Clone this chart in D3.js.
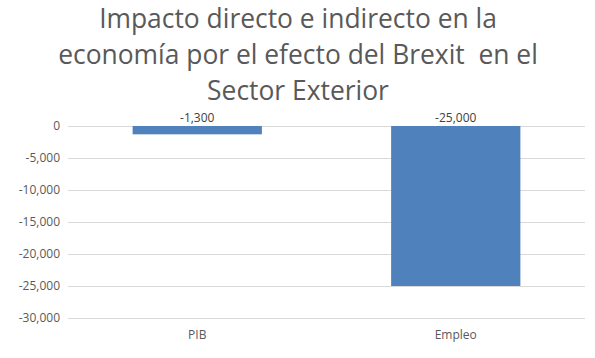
<!DOCTYPE html>
<html><head><meta charset="utf-8">
<script src="https://cdn.jsdelivr.net/npm/d3@7"></script>
<style>body{margin:0;background:#fff}svg{display:block}</style>
</head><body>
<script>
const categories = ["PIB", "Empleo"];
const values = [-1300, -25000];
const yTicks = [0, -5000, -10000, -15000, -20000, -25000, -30000];
const titleLines = ["Impacto directo e indirecto en la", "economía por el efecto del Brexit  en el", "Sector Exterior"];

const W = 595, H = 358;
const svg = d3.select("body").append("svg").attr("width", W).attr("height", H);
const font = "Open Sans, Liberation Sans, sans-serif";
const gray = "#595959";

const x = d3.scaleBand().domain(categories).range([68, 585]).paddingInner(0.5).paddingOuter(0.25);
const y = d3.scaleLinear().domain([-30000, 0]).range([318, 126]);
const fmt = v => d3.format(",")(v).replace("\u2212", "-");

// gridlines
svg.append("g").selectAll("line").data(yTicks).join("line")
  .attr("x1", 68).attr("x2", 585)
  .attr("y1", d => y(d) + 0.5).attr("y2", d => y(d) + 0.5)
  .attr("stroke", "#D9D9D9").attr("stroke-width", 1);

// y axis labels
const yAxis = d3.axisLeft(y).tickValues(yTicks).tickSize(0).tickPadding(0).tickFormat(fmt);
const ya = svg.append("g").attr("transform", "translate(60,0)").call(yAxis);
ya.select(".domain").remove();
ya.selectAll("text").attr("font-family", font).attr("font-size", 12).attr("fill", gray);

// bars
svg.append("g").selectAll("rect").data(values).join("rect")
  .attr("x", (d, i) => x(categories[i]))
  .attr("width", x.bandwidth())
  .attr("y", d => y(Math.max(0, d)))
  .attr("height", d => Math.abs(y(d) - y(0)))
  .attr("fill", "#4F81BD");

// data labels
svg.append("g").selectAll("text").data(values).join("text")
  .attr("x", (d, i) => x(categories[i]) + x.bandwidth() / 2)
  .attr("y", y(0) - 4)
  .attr("text-anchor", "middle")
  .attr("font-family", font).attr("font-size", 12).attr("fill", "#404040")
  .text(d => fmt(d));

// x axis labels
const xAxis = d3.axisBottom(x).tickSize(0).tickPadding(0);
const xa = svg.append("g").attr("transform", "translate(0,330)").call(xAxis);
xa.select(".domain").remove();
xa.selectAll("text").attr("font-family", font).attr("font-size", 12).attr("fill", gray);

// title
const baselines = [28, 64, 100];
const t = svg.append("g").selectAll("text").data(titleLines).join("text")
  .attr("x", 298).attr("y", (d, i) => baselines[i])
  .attr("text-anchor", "middle")
  .style("white-space", "pre")
  .attr("font-family", font).attr("font-size", 24).attr("fill", gray)
  .text(d => d);
const w2 = t.nodes()[1].getComputedTextLength();
t.attr("font-size", 24 * 480 / w2);
</script>
</body></html>
